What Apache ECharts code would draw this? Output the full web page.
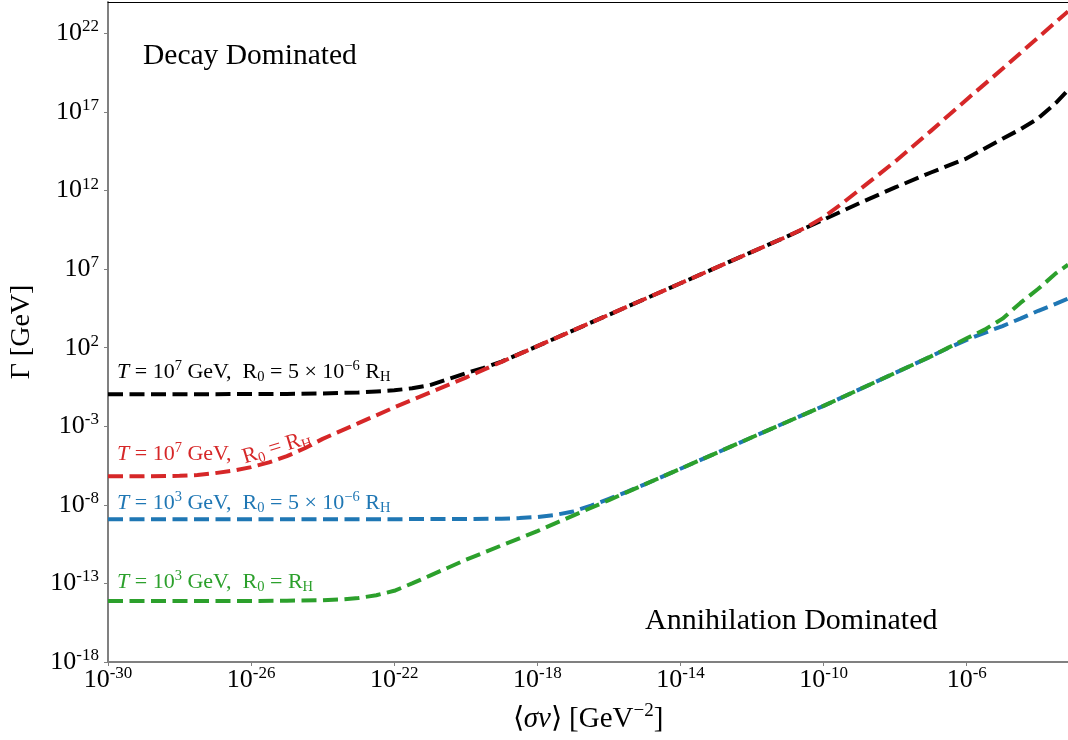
<!DOCTYPE html>
<html>
<head>
<meta charset="utf-8">
<script src="https://cdn.jsdelivr.net/npm/echarts@6/dist/echarts.min.js"></script>
<style>
html,body{margin:0;padding:0;background:#fff;}
#chart{width:1068px;height:740px;}
</style>
</head>
<body>
<div id="chart"></div>
<script>
// All values are log10 exponents: x = log10(<sigma v> / GeV^-2), y = log10(Gamma / GeV)
const xTicks = [-30, -26, -22, -18, -14, -10, -6];
const yTicks = [-18, -13, -8, -3, 2, 7, 12, 17, 22];

// T = 1e7 GeV, R0 = 5e-6 RH (black)
const blackX = [-30, -28, -26, -25, -24, -23, -22.5, -22, -21.5, -21, -20.5, -20, -19.5, -19, -18, -16, -14, -12, -11, -10, -9, -8, -7, -6, -5, -4.5, -4, -3.5, -3.17];
const blackY = [-0.96, -0.96, -0.95, -0.94, -0.91, -0.85, -0.79, -0.71, -0.58, -0.38, 0.0, 0.38, 0.72, 1.12, 2.1, 4.1, 6.1, 8.1, 9.1, 10.15, 11.2, 12.2, 13.15, 14.05, 15.3, 15.9, 16.6, 17.6, 18.4];

// T = 1e7 GeV, R0 = RH (red)
const redX = [-30, -29, -28, -27.5, -27, -26.5, -26, -25.5, -25, -24.5, -24, -23, -22, -21, -20, -19, -18, -16, -14, -12, -11, -10.5, -10, -9.5, -9, -8, -7, -6, -5, -4, -3.17];
const redY = [-6.18, -6.18, -6.15, -6.1, -5.98, -5.82, -5.6, -5.3, -4.9, -4.4, -3.8, -2.8, -1.8, -0.85, 0.1, 1.1, 2.1, 4.1, 6.1, 8.1, 9.1, 9.65, 10.3, 11.15, 12.05, 13.85, 15.8, 17.8, 19.75, 21.75, 23.4];

// T = 1e3 GeV, R0 = 5e-6 RH (blue)
const blueX = [-30, -26, -22, -20, -19, -18.5, -18, -17.5, -17, -16.5, -16, -15.5, -15, -14, -12, -10, -8, -7, -6.5, -6, -5.5, -5, -4.5, -4, -3.5, -3.17];
const blueY = [-8.91, -8.91, -8.91, -8.9, -8.88, -8.84, -8.77, -8.64, -8.42, -8.05, -7.62, -7.17, -6.7, -5.7, -3.7, -1.7, 0.4, 1.45, 2.0, 2.5, 2.95, 3.38, 3.85, 4.35, 4.8, 5.12];

// T = 1e3 GeV, R0 = RH (green)
const greenX = [-30, -26, -25, -24, -23.5, -23, -22.5, -22, -21.5, -21, -20.5, -20, -19, -18, -17, -16, -15, -14, -12, -10, -8, -7, -6.5, -6, -5.5, -5, -4.5, -4, -3.5, -3.17];
const greenY = [-14.12, -14.12, -14.1, -14.07, -14.02, -13.93, -13.75, -13.47, -13.0, -12.5, -12.0, -11.5, -10.58, -9.67, -8.68, -7.7, -6.7, -5.7, -3.7, -1.7, 0.4, 1.45, 2.02, 2.6, 3.15, 3.85, 4.85, 5.75, 6.75, 7.28];

const FONT = 'Liberation Serif';
const chart = echarts.init(document.getElementById('chart'), null, {renderer: 'canvas'});

function pairs(xs, ys) { return xs.map((x, i) => [x, ys[i]]); }
function mkSeries(name, xs, ys, color) {
  return {
    name: name, type: 'line', data: pairs(xs, ys),
    showSymbol: false, symbol: 'none', smooth: false,
    lineStyle: {color: color, width: 4, type: [15, 6.5], cap: 'butt', join: 'round'},
    z: 2, animation: false
  };
}
function richFor(color) {
  return {
    n: {fill: color, fontFamily: FONT, fontSize: 22, lineHeight: 26, verticalAlign: 'middle'},
    i: {fill: color, fontFamily: FONT, fontSize: 22, fontStyle: 'italic', lineHeight: 26, verticalAlign: 'middle'},
    sup: {fill: color, fontFamily: FONT, fontSize: 14.5, lineHeight: 14, verticalAlign: 'top'},
    sub: {fill: color, fontFamily: FONT, fontSize: 14.5, lineHeight: 14, verticalAlign: 'bottom'}
  };
}
function annot(x, y, text, color, rot) {
  return {
    type: 'text', x: x, y: y, rotation: rot || 0, z: 10,
    style: {text: text, align: 'left', verticalAlign: 'middle', fill: color, fontFamily: FONT, fontSize: 22, rich: richFor(color)}
  };
}
const tickRich = {
  b: {fontFamily: FONT, fontSize: 26, color: '#000', lineHeight: 30, verticalAlign: 'middle'},
  s: {fontFamily: FONT, fontSize: 17, color: '#000', lineHeight: 17, verticalAlign: 'top'}
};
const axisGrey = '#808080';

const option = {
  backgroundColor: '#fff',
  animation: false,
  grid: {left: 107, right: 0, top: 2, bottom: 78, containLabel: false},
  xAxis: [{
    type: 'value', min: -30, max: -3.17,
    axisLine: {show: true, onZero: false, lineStyle: {color: axisGrey, width: 2}},
    axisTick: {show: true, length: 4, inside: false, customValues: xTicks, lineStyle: {color: axisGrey, width: 1}},
    axisLabel: {show: true, margin: 3, customValues: xTicks, formatter: v => '{b|10}{s|' + v + '}', rich: tickRich},
    splitLine: {show: false},
    name: '{n|⟨}{i|σv}{n|⟩ [GeV}{s|−2}{n|]}',
    nameLocation: 'middle', nameGap: 40,
    nameTextStyle: {
      rich: {
        n: {fontFamily: FONT, fontSize: 29, color: '#000', lineHeight: 34, verticalAlign: 'middle'},
        i: {fontFamily: FONT, fontSize: 29, fontStyle: 'italic', color: '#000', lineHeight: 34, verticalAlign: 'middle'},
        s: {fontFamily: FONT, fontSize: 19, color: '#000', lineHeight: 19, verticalAlign: 'top'}
      }
    }
  }, {
    type: 'value', min: -30, max: -3.17, position: 'top',
    axisLine: {show: true, onZero: false, lineStyle: {color: '#000', width: 1}},
    axisTick: {show: false}, axisLabel: {show: false}, splitLine: {show: false}
  }],
  yAxis: {
    type: 'value', min: -18, max: 24,
    axisLine: {show: true, onZero: false, lineStyle: {color: axisGrey, width: 2}},
    axisTick: {show: true, length: 4, customValues: yTicks, lineStyle: {color: axisGrey, width: 1}},
    axisLabel: {show: true, margin: 9, customValues: yTicks, formatter: v => '{b|10}{s|' + v + '}', rich: tickRich},
    splitLine: {show: false},
    name: 'Γ [GeV]', nameLocation: 'middle', nameGap: 72,
    nameTextStyle: {fontFamily: FONT, fontSize: 28, color: '#000'}
  },
  series: [
    mkSeries('T=1e7 GeV, R0=5e-6 RH', blackX, blackY, '#000000'),
    mkSeries('T=1e7 GeV, R0=RH', redX, redY, '#d62728'),
    mkSeries('T=1e3 GeV, R0=5e-6 RH', blueX, blueY, '#1f77b4'),
    mkSeries('T=1e3 GeV, R0=RH', greenX, greenY, '#2ca02c')
  ],
  graphic: [
    {type: 'text', x: 143, y: 56, z: 10, style: {text: 'Decay Dominated', align: 'left', verticalAlign: 'middle', fill: '#000', fontFamily: FONT, fontSize: 29.5}},
    {type: 'text', x: 645, y: 621, z: 10, style: {text: 'Annihilation Dominated', align: 'left', verticalAlign: 'middle', fill: '#000', fontFamily: FONT, fontSize: 30}},
    annot(117, 372, '{i|T}{n| = 10}{sup|7}{n| GeV,  R}{sub|0}{n| = 5 × 10}{sup|−6}{n| R}{sub|H}', '#000000'),
    annot(117, 454, '{i|T}{n| = 10}{sup|7}{n| GeV,}', '#d62728'),
    annot(243, 458, '{n|R}{sub|0}{n| = R}{sub|H}', '#d62728', 0.3),
    annot(117, 503, '{i|T}{n| = 10}{sup|3}{n| GeV,  R}{sub|0}{n| = 5 × 10}{sup|−6}{n| R}{sub|H}', '#1f77b4'),
    annot(117, 582, '{i|T}{n| = 10}{sup|3}{n| GeV,  R}{sub|0}{n| = R}{sub|H}', '#2ca02c')
  ]
};
chart.setOption(option);
</script>
</body>
</html>
